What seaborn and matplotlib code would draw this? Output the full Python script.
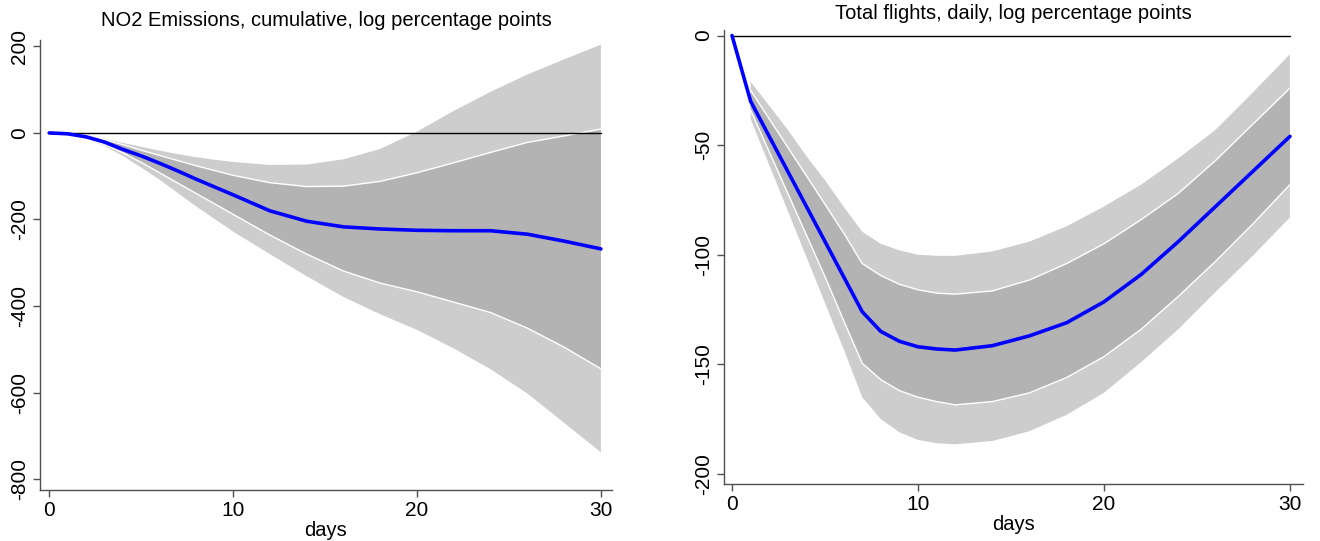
import numpy as np
import pandas as pd
import matplotlib
matplotlib.use("Agg")
import matplotlib.pyplot as plt
import seaborn as sns

# ---- Left panel: NO2 emissions (cumulative) ----
no2_days = [0, 1, 2, 3, 4, 5, 6, 7, 8, 9, 10, 12, 14, 16, 18, 20, 22, 24, 26, 28, 30]
no2_est = [0, -2, -9, -21, -38, -53, -70, -88, -107, -125, -143, -180, -204, -217, -222, -225,
           -226, -226, -234, -250, -268]
no2_in_up = [0, -1, -6, -15, -27, -40, -52, -64, -76, -87, -98, -115, -124, -123, -112, -92,
             -69, -45, -22, -7, 9]
no2_in_lo = [0, -3, -12, -27, -46, -68, -92, -116, -140, -164, -188, -236, -280, -319, -347, -367,
             -391, -415, -451, -495, -545]
no2_out_up = [0, -1, -5, -13, -23, -32, -41, -49, -56, -62, -67, -74, -73, -61, -37, 3,
              51, 95, 135, 170, 204]
no2_out_lo = [0, -3, -13, -30, -53, -80, -108, -139, -170, -199, -228, -280, -331, -379, -419, -455,
              -498, -546, -602, -670, -738]

# ---- Right panel: total flights (daily) ----
fl_days = [0, 1, 2, 3, 4, 5, 6, 7, 8, 9, 10, 11, 12, 14, 16, 18, 20, 22, 24, 26, 28, 30]
fl_est = [0, -30, -46, -62, -78, -94, -110, -126, -135, -139.5, -142, -143, -143.5, -141.5,
          -137, -131, -121.5, -109, -94, -78, -62, -46]
fl_out_up = [np.nan, -21, -32, -43, -55, -66, -78, -89.5, -95, -98, -100, -100.5, -100.5, -98.5,
             -94, -87, -78, -68, -56, -43, -26, -8.5]
fl_in_up = [np.nan, -25, -38, -51, -64, -77, -90, -104, -109.5, -113.5, -116, -117.5, -118, -116.5,
            -111.5, -104, -95, -84, -72, -57, -40.5, -24]
fl_in_lo = [np.nan, -34, -53, -72, -91, -110, -130, -149.5, -157, -162, -165, -167, -168.5, -167,
            -163, -156, -146.5, -134, -119, -103, -86, -68]
fl_out_lo = [np.nan, -38, -59, -80, -101, -122, -143, -165, -175, -181, -184.5, -186, -186.5, -185,
             -180.5, -173, -163, -149, -134, -117, -100.5, -83]

titles = ["NO2 Emissions, cumulative, log percentage points",
          "Total flights, daily, log percentage points"]
xticks = [0, 10, 20, 30]
no2_yticks = [200, 0, -200, -400, -600, -800]
fl_yticks = [0, -50, -100, -150, -200]

sns.set_theme(style="white")
plt.rcParams['font.family'] = ['Liberation Sans', 'DejaVu Sans']
plt.rcParams['text.color'] = 'black'
plt.rcParams['axes.labelcolor'] = 'black'
plt.rcParams['xtick.color'] = 'black'
plt.rcParams['ytick.color'] = 'black'

fig = plt.figure(figsize=(13.2, 5.41), dpi=100)
ax1 = fig.add_axes([0.0303, 0.0943, 0.4333, 0.832])
ax2 = fig.add_axes([0.5485, 0.1054, 0.4386, 0.839])

LIGHT = "#cdcdcd"
DARK = "#b3b3b3"
SPINE = "#505050"


def panel(ax, days, est, out_up, out_lo, in_up, in_lo, title, yticks, xlim, ylim, title_y):
    d = np.asarray(days, float)
    ax.fill_between(d, np.asarray(out_lo, float), np.asarray(out_up, float),
                    facecolor=LIGHT, edgecolor="none", lw=0, zorder=1)
    ax.fill_between(d, np.asarray(in_lo, float), np.asarray(in_up, float),
                    facecolor=DARK, edgecolor="none", lw=0, zorder=2)
    ax.plot(d, in_up, color="white", lw=1.0, zorder=3)
    ax.plot(d, in_lo, color="white", lw=1.0, zorder=3)
    ax.plot([d[0], d[-1]], [0, 0], color="black", lw=1.0, zorder=4)
    df = pd.DataFrame({"days": days, "est": est})
    sns.lineplot(data=df, x="days", y="est", ax=ax, color="#0000ff", lw=2.6, zorder=5)
    ax.set_xlim(*xlim)
    ax.set_ylim(*ylim)
    ax.set_xticks(xticks)
    ax.set_yticks(yticks)
    ax.set_yticklabels([str(t) for t in yticks], rotation=90, va="center")
    ax.set_xlabel("days", fontsize=14.5, labelpad=1, color="black")
    ax.set_ylabel("")
    ax.set_title(title, fontsize=14.5, y=title_y, pad=0, color="black")
    for s in ["top", "right"]:
        ax.spines[s].set_visible(False)
    for s in ["left", "bottom"]:
        ax.spines[s].set_color(SPINE)
        ax.spines[s].set_linewidth(1.0)
    ax.tick_params(axis="both", which="both", direction="out", length=5, width=1,
                   color=SPINE, labelcolor="black", labelsize=15, pad=3, bottom=True, left=True)
    ax.grid(False)


panel(ax1, no2_days, no2_est, no2_out_up, no2_out_lo, no2_in_up, no2_in_lo,
      titles[0], no2_yticks, (-0.5, 30.6), (-825, 215), 1.03)
panel(ax2, fl_days, fl_est, fl_out_up, fl_out_lo, fl_in_up, fl_in_lo,
      titles[1], fl_yticks, (-0.43, 30.7), (-204.6, 2.5), 1.024)

fig.savefig("out.png", dpi=100)
